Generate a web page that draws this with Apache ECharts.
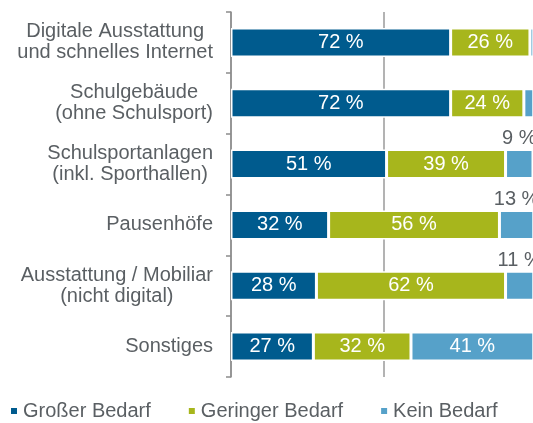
<!DOCTYPE html>
<html lang="de">
<head>
    <meta charset="UTF-8">
    <title>Bedarf nach Bereichen</title>
    <script src="https://cdn.jsdelivr.net/npm/echarts@6/dist/echarts.min.js"></script>
    <style>
        html, body { margin: 0; padding: 0; background: #fff; }
        #main { width: 533px; height: 423px; }
    </style>
</head>
<body>
<div id="main"></div>
<script type="text/javascript">
    var categories = [
        'Digitale Ausstattung\nund schnelles Internet',
        'Schulgebäude\n(ohne Schulsport)',
        'Schulsportanlagen\n(inkl. Sporthallen)',
        'Pausenhöfe',
        'Ausstattung / Mobiliar\n(nicht digital)',
        'Sonstiges'
    ];
    var seriesNames = ['Großer Bedarf', 'Geringer Bedarf', 'Kein Bedarf'];
    var grosser = [72, 72, 51, 32, 28, 27];
    var geringer = [26, 24, 39, 56, 62, 32];
    var kein = [2, 4, 9, 13, 11, 41];
    var colors = ['#005b8e', '#a7b61c', '#56a1c9'];

    var myChart = echarts.init(document.getElementById('main'));

    // kleine Werte: Beschriftung über dem Balken, grau
    var keinData = kein.map(function (v, i) {
        if (i < 2) return { value: v, label: { show: false } };
        if (v < 20) {
            return {
                value: v,
                label: { position: 'top', color: '#5a5f63', distance: 1 }
            };
        }
        return v;
    });

    function barSeries(name, data, color) {
        return {
            name: name,
            type: 'bar',
            stack: 'total',
            data: data,
            barWidth: 29,
            itemStyle: { color: color, borderColor: '#fff', borderWidth: 1.5 },
            label: {
                show: true,
                position: 'inside',
                color: '#fff',
                fontSize: 20,
                fontFamily: 'Liberation Sans',
                formatter: '{c} %'
            }
        };
    }

    var option = {
        animation: false,
        textStyle: { fontFamily: 'Liberation Sans' },
        grid: { left: 231, right: 0, top: 12, bottom: 46 },
        legend: {
            data: seriesNames,
            bottom: 2,
            left: 9,
            padding: 0,
            itemWidth: 8,
            itemHeight: 8,
            itemGap: 36,
            icon: 'rect',
            textStyle: { color: '#5a5f63', fontSize: 20, fontFamily: 'Liberation Sans' }
        },
        xAxis: {
            type: 'value',
            min: 0,
            max: 99,
            interval: 50,
            axisLabel: { show: false },
            axisLine: { show: false },
            axisTick: { show: false },
            splitLine: { show: true, showMaxLine: false, lineStyle: { color: '#9a9a9a', width: 1.5 } }
        },
        yAxis: {
            type: 'category',
            inverse: true,
            data: categories,
            axisLine: { show: true, lineStyle: { color: '#8c8c8c', width: 1.5 } },
            axisTick: { show: true, length: 5, lineStyle: { color: '#8c8c8c', width: 1.5 } },
            axisLabel: {
                margin: 18,
                color: '#5a5f63',
                fontSize: 20,
                lineHeight: 21,
                formatter: function (v) {
                    return v.split('\n').map(function (s) { return '{a|' + s + '}'; }).join('\n');
                },
                rich: {
                    a: { align: 'center', fontSize: 20, lineHeight: 21, color: '#5a5f63', fontFamily: 'Liberation Sans' }
                }
            }
        },
        series: [
            barSeries(seriesNames[0], grosser, colors[0]),
            barSeries(seriesNames[1], geringer, colors[1]),
            barSeries(seriesNames[2], keinData, colors[2])
        ]
    };

    myChart.setOption(option);
</script>
</body>
</html>
